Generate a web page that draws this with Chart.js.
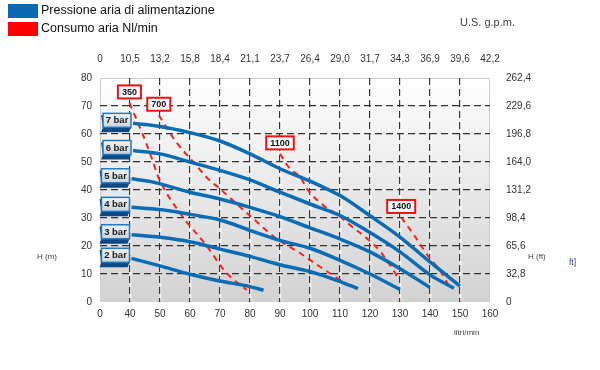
<!DOCTYPE html>
<html>
<head>
<meta charset="utf-8">
<script src="https://cdn.jsdelivr.net/npm/chart.js@4"></script>
<style>
  body { margin: 0; background: #fff; font-family: "Liberation Sans", Arial, sans-serif; }
  #wrap { position: relative; width: 600px; height: 370px; }
  .lbl { position: absolute; white-space: nowrap; color: #444; }
  .sw { position: absolute; left: 8px; width: 30px; height: 14px; }
</style>
</head>
<body>
<div id="wrap">
  <canvas id="pump" width="600" height="370"></canvas>
  <div class="sw" style="top:4px;background:#0a69b3"></div>
  <div class="lbl" style="left:41px;top:3px;font-size:12.5px;color:#111">Pressione aria di alimentazione</div>
  <div class="sw" style="top:22px;background:#f00"></div>
  <div class="lbl" style="left:41px;top:21px;font-size:12.5px;color:#111">Consumo aria Nl/min</div>
  <div class="lbl" style="left:460px;top:16px;font-size:11px">U.S. g.p.m.</div>
  <div class="lbl" style="left:37px;top:252px;font-size:8px">H (m)</div>
  <div class="lbl" style="left:528px;top:252px;font-size:8px">H (ft)</div>
  <div class="lbl" style="left:569px;top:257px;font-size:8.5px;color:#1d4fa0">ft<span style="color:#d00">]</span></div>
  <div class="lbl" style="left:454px;top:328px;font-size:8px">litri/min</div>
</div>
<script>
// axis labels
const gpmLabels = ['0', '10,5', '13,2', '15,8', '18,4', '21,1', '23,7', '26,4', '29,0', '31,7', '34,3', '36,9', '39,6', '42,2'];
const ftLabels = ['0', '32,8', '65,6', '98,4', '131,2', '164,0', '196,8', '229,6', '262,4'];

// pressure curves (l/min -> m)
const barNames = ['7 bar', '6 bar', '5 bar', '4 bar', '3 bar', '2 bar'];
const flow7 = [41, 50, 60, 70, 80, 90, 100, 110, 120, 130, 140, 150];
const head7 = [63.8, 62.7, 60.5, 57.5, 52.9, 47.6, 43.2, 38, 30.8, 23.2, 14.3, 5.7];
const flow6 = [41, 50, 60, 70, 80, 90, 100, 110, 120, 130, 140, 148];
const head6 = [54.1, 52.9, 50, 47, 43.6, 39.2, 35, 30.9, 24.8, 17.9, 9.7, 4.9];
const flow5 = [40.5, 47, 60, 70, 80, 90, 100, 110, 120, 130, 140];
const head5 = [44, 43, 39.2, 36.8, 33.8, 30.5, 26.5, 22.5, 17.9, 11.9, 5.2];
const flow4 = [40.5, 50, 60, 70, 80, 90, 100, 110, 120, 130];
const head4 = [33.8, 33, 31.3, 29.3, 25.6, 22, 19.2, 14.9, 10, 4.5];
const flow3 = [40.5, 50, 60, 70, 80, 90, 101, 110, 116];
const head3 = [24, 23.1, 21.5, 18.9, 16.3, 13.3, 10.6, 7.3, 4.8];
const flow2 = [40.5, 50, 60, 70, 80, 84.5];
const head2 = [15.6, 12.9, 9.9, 7.5, 5.5, 4.2];

// air consumption lines (Nl/min)
const consNames = ['350', '700', '1100', '1400'];
const flowC350 = [39.8, 43.7, 47.1, 49.6, 56.5, 65.5, 71.8, 78.9];
const headC350 = [71.1, 61.3, 51.8, 44.2, 32, 20.1, 10.8, 4.3];
const flowC700 = [49.6, 55.4, 61.6, 66, 70, 80, 89, 96.8, 101.2, 108, 113.6];
const headC700 = [66.7, 57.1, 49.4, 44, 40.4, 30.8, 22.5, 17.4, 14.1, 9.3, 5.5];
const flowC1100 = [90, 93.4, 96.8, 99, 104.6, 109.7, 113.6, 119.2, 123.7, 129.4];
const headC1100 = [52.9, 47.5, 44.6, 40.4, 34.4, 30.8, 27.2, 22.5, 17.7, 8.6];
const flowC1400 = [130.4, 134.8, 139.3, 143.8, 146];
const headC1400 = [30.2, 23.7, 16.5, 10.5, 6.3];

const pts = (xs, ys) => xs.map((x, i) => ({ x: x, y: ys[i] }));

const blueCurves = [[flow7, head7], [flow6, head6], [flow5, head5], [flow4, head4], [flow3, head3], [flow2, head2]];
const redCurves = [[flowC350, headC350], [flowC700, headC700], [flowC1100, headC1100], [flowC1400, headC1400]];

const datasets = [];
blueCurves.forEach((c, i) => {
    datasets.push({
        label: barNames[i],
        data: pts(c[0], c[1]),
        borderColor: '#0a6cb5',
        borderWidth: 3.5,
        pointRadius: 0,
        cubicInterpolationMode: 'monotone',
        kind: 'bar'
    });
});
redCurves.forEach((c, i) => {
    datasets.push({
        label: consNames[i],
        data: pts(c[0], c[1]),
        borderColor: '#ff1f1f',
        borderWidth: 2,
        borderDash: [6, 5],
        pointRadius: 0,
        cubicInterpolationMode: 'monotone',
        kind: 'cons'
    });
});

// gradient plot background + white under-lines for the vertical grid
const backdrop = {
    id: 'backdrop',
    beforeDraw(chart) {
        const { ctx, chartArea: a, scales } = chart;
        ctx.save();
        const g = ctx.createLinearGradient(0, a.top, 0, a.bottom);
        g.addColorStop(0, '#ffffff');
        g.addColorStop(1, '#d2d2d2');
        ctx.fillStyle = g;
        ctx.fillRect(a.left, a.top, a.right - a.left, a.bottom - a.top);
        ctx.strokeStyle = 'rgba(255,255,255,0.9)';
        ctx.lineWidth = 1.5;
        for (let v = 40; v <= 150; v += 10) {
            const x = Math.round(scales.x.getPixelForValue(v)) + 0.5;
            ctx.beginPath();
            ctx.moveTo(x, a.top);
            ctx.lineTo(x, a.bottom);
            ctx.stroke();
        }
        ctx.strokeStyle = '#cfcfcf';
        ctx.lineWidth = 1;
        ctx.strokeRect(a.left + 0.5, a.top + 0.5, a.right - a.left - 1, a.bottom - a.top - 1);
        ctx.restore();
    }
};

// tags: bar boxes at curve start, consumption boxes above line start
const tags = {
    id: 'tags',
    afterDatasetsDraw(chart) {
        const { ctx, scales } = chart;
        ctx.save();
        ctx.textAlign = 'center';
        ctx.textBaseline = 'middle';
        chart.data.datasets.forEach(ds => {
            const p = ds.data[0];
            const px = scales.x.getPixelForValue(p.x);
            const py = scales.y.getPixelForValue(p.y);
            if (ds.kind === 'bar') {
                const w = 28, h = 14;
                const x0 = px - w - 2, y0 = py - h / 2 - 3;
                // 3d extrusion
                ctx.fillStyle = '#0b4a86';
                ctx.beginPath();
                ctx.moveTo(x0, y0 + h);
                ctx.lineTo(x0 - 2, y0 + h + 5);
                ctx.lineTo(x0 + w - 2, y0 + h + 5);
                ctx.lineTo(x0 + w, y0 + h);
                ctx.lineTo(x0 + w, y0);
                ctx.lineTo(x0 - 2, y0 + 2);
                ctx.closePath();
                ctx.fill();
                const g = ctx.createLinearGradient(0, y0, 0, y0 + h);
                g.addColorStop(0, '#f4f6f8');
                g.addColorStop(1, '#c9d3dc');
                ctx.fillStyle = g;
                ctx.fillRect(x0, y0, w, h);
                ctx.strokeStyle = '#1f78c1';
                ctx.lineWidth = 1.5;
                ctx.strokeRect(x0, y0, w, h);
                ctx.fillStyle = '#1a1a1a';
                ctx.font = 'bold 9.5px "Liberation Sans", Arial, sans-serif';
                ctx.fillText(ds.label, x0 + w / 2, y0 + h / 2 + 0.5);
            } else {
                ctx.font = 'bold 9px "Liberation Sans", Arial, sans-serif';
                const w = ctx.measureText(ds.label).width + 8, h = 13;
                const cx = px, cy = py - 11;
                ctx.fillStyle = '#fff';
                ctx.fillRect(cx - w / 2, cy - h / 2, w, h);
                ctx.strokeStyle = '#ee1111';
                ctx.lineWidth = 2;
                ctx.strokeRect(cx - w / 2, cy - h / 2, w, h);
                ctx.fillStyle = '#111';
                ctx.fillText(ds.label, cx, cy + 0.5);
            }
        });
        ctx.restore();
    }
};

const tickFont = { family: '"Liberation Sans", Arial, sans-serif', size: 10 };
const dashGrid = (edges) => ({
    color: ctx => edges.includes(ctx.tick.value) ? 'transparent' : '#333',
    lineWidth: 1.2,
    drawTicks: false
});

new Chart(document.getElementById('pump'), {
    type: 'line',
    data: { datasets: datasets },
    plugins: [backdrop, tags],
    options: {
        responsive: false,
        animation: false,
        layout: { padding: 0 },
        plugins: { legend: { display: false }, tooltip: { enabled: false } },
        scales: {
            x: {
                type: 'linear', position: 'bottom', min: 30, max: 160,
                afterFit: s => { s.height = 68; },
                border: { display: false, dash: [7, 4] },
                grid: dashGrid([30, 160]),
                ticks: {
                    stepSize: 10, padding: 6, color: '#333', font: tickFont, maxRotation: 0,
                    callback: v => v === 30 ? '0' : String(v)
                }
            },
            x2: {
                type: 'linear', position: 'top', min: 30, max: 160,
                afterFit: s => { s.height = 78; },
                border: { display: false },
                grid: { display: false },
                ticks: {
                    stepSize: 10, padding: 5, color: '#333', font: tickFont, maxRotation: 0,
                    callback: v => gpmLabels[Math.round((v - 30) / 10)]
                }
            },
            y: {
                type: 'linear', position: 'left', min: 0, max: 80,
                afterFit: s => { s.width = 100; },
                border: { display: false, dash: [7, 4] },
                grid: dashGrid([0, 80]),
                ticks: { stepSize: 10, padding: 8, color: '#333', font: tickFont }
            },
            y2: {
                type: 'linear', position: 'right', min: 0, max: 80,
                afterFit: s => { s.width = 110; },
                border: { display: false },
                grid: { display: false },
                ticks: {
                    stepSize: 10, padding: 8, color: '#333', font: tickFont,
                    callback: v => ftLabels[Math.round(v / 10)]
                }
            }
        }
    }
});
</script>
</body>
</html>
